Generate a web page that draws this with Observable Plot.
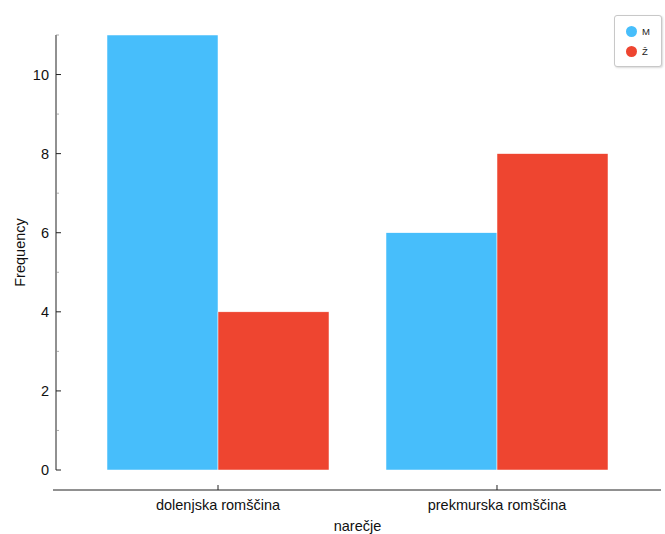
<!DOCTYPE html>
<html>
<head>
<meta charset="utf-8">
<script src="https://cdn.jsdelivr.net/npm/d3@7"></script>
<script src="https://cdn.jsdelivr.net/npm/@observablehq/plot@0.6"></script>
<style>
  html, body { margin: 0; padding: 0; background: #fff; }
  #wrap { position: relative; width: 665px; height: 534px; font-family: "Liberation Sans", Arial, sans-serif; }
  #legend { position: absolute; left: 614px; top: 15px; width: 46px; height: 50px; border: 1px solid #c8c8c8; border-radius: 3px; box-shadow: 1px 1px 2px rgba(0,0,0,0.15); background: #fff; font-size: 9.5px; color: #222; }
  .li { position: absolute; left: 11px; display: flex; align-items: center; }
  .dot { width: 11px; height: 11px; border-radius: 50%; margin-right: 5px; }
</style>
</head>
<body>
<div id="wrap"></div>
<script>
const dialects = ["dolenjska romščina", "prekmurska romščina"];
const genders = ["M", "Ž"];
const countsM = [11, 6];
const countsZ = [4, 8];
const colors = ["#47BEFB", "#EE4530"];
const yTicks = [0, 2, 4, 6, 8, 10];
const yMinor = [1, 3, 5, 7, 9, 11];

const data = [];
dialects.forEach((d, i) => {
  data.push({dialect: d, gender: genders[0], n: countsM[i]});
  data.push({dialect: d, gender: genders[1], n: countsZ[i]});
});

const W = 665, H = 534;
const FS = 14.5;
const plot = Plot.plot({
  width: W, height: H,
  marginLeft: 107, marginRight: 57, marginTop: 35, marginBottom: 64,
  style: {fontFamily: "Liberation Sans, Arial, sans-serif", background: "#fff"},
  fx: {domain: dialects, paddingInner: 0.2043, paddingOuter: 0, round: false, axis: null, label: null},
  x: {domain: genders, padding: 0, round: false, axis: null, label: null},
  y: {domain: [0, 11], axis: null, label: null},
  color: {domain: genders, range: colors},
  marks: [
    Plot.barY(data, {fx: "dialect", x: "gender", y: "n", fill: "gender", stroke: "#fff", strokeWidth: 0.5, insetLeft: 0, insetRight: 0})
  ]
});

const wrap = document.getElementById("wrap");
wrap.appendChild(plot);

const svg = d3.select(plot);
const y = plot.scale("y");
const fx = plot.scale("fx");
const ys = v => y.apply(v);
const axisX = 56;
const g = svg.append("g").attr("fill", "none").attr("stroke", "#222");
// y axis line
g.append("line").attr("x1", axisX).attr("x2", axisX).attr("y1", ys(11)).attr("y2", ys(0)).attr("stroke-width", 1);
yTicks.forEach(t => {
  g.append("line").attr("x1", axisX).attr("x2", axisX + 5).attr("y1", ys(t)).attr("y2", ys(t));
});
yMinor.forEach(t => {
  g.append("line").attr("x1", axisX).attr("x2", axisX + 3).attr("y1", ys(t)).attr("y2", ys(t)).attr("stroke", "#888").attr("stroke-width", 0.7);
});
const tg = svg.append("g").attr("font-family", "Liberation Sans, Arial, sans-serif").attr("fill", "#111");
yTicks.forEach(t => {
  tg.append("text").attr("x", axisX - 7).attr("y", ys(t)).attr("dy", "0.35em").attr("text-anchor", "end").attr("font-size", FS).text(t);
});
// x axis
const xAxisY = 490;
g.append("line").attr("x1", 53).attr("x2", 661).attr("y1", xAxisY).attr("y2", xAxisY);
dialects.forEach(d => {
  const cx = fx.apply(d) + fx.bandwidth / 2;
  g.append("line").attr("x1", cx).attr("x2", cx).attr("y1", xAxisY - 5).attr("y2", xAxisY);
  tg.append("text").attr("x", cx).attr("y", 505).attr("dy", "0.35em").attr("text-anchor", "middle").attr("font-size", FS).text(d);
});
const left = fx.apply(dialects[0]);
const right = fx.apply(dialects[1]) + fx.bandwidth;
tg.append("text").attr("x", (left + right) / 2).attr("y", 526).attr("dy", "0.35em").attr("text-anchor", "middle").attr("font-size", FS).text("narečje");
tg.append("text").attr("transform", `translate(20,${(ys(0) + ys(11)) / 2}) rotate(-90)`).attr("dy", "0.35em").attr("text-anchor", "middle").attr("font-size", FS).text("Frequency");

// legend
const leg = document.createElement("div");
leg.id = "legend";
genders.forEach((gname, i) => {
  const item = document.createElement("div");
  item.className = "li";
  item.style.top = (10 + i * 20) + "px";
  const dot = document.createElement("div");
  dot.className = "dot";
  dot.style.background = colors[i];
  const lab = document.createElement("span");
  lab.textContent = gname;
  item.appendChild(dot);
  item.appendChild(lab);
  leg.appendChild(item);
});
wrap.appendChild(leg);
</script>
</body>
</html>
